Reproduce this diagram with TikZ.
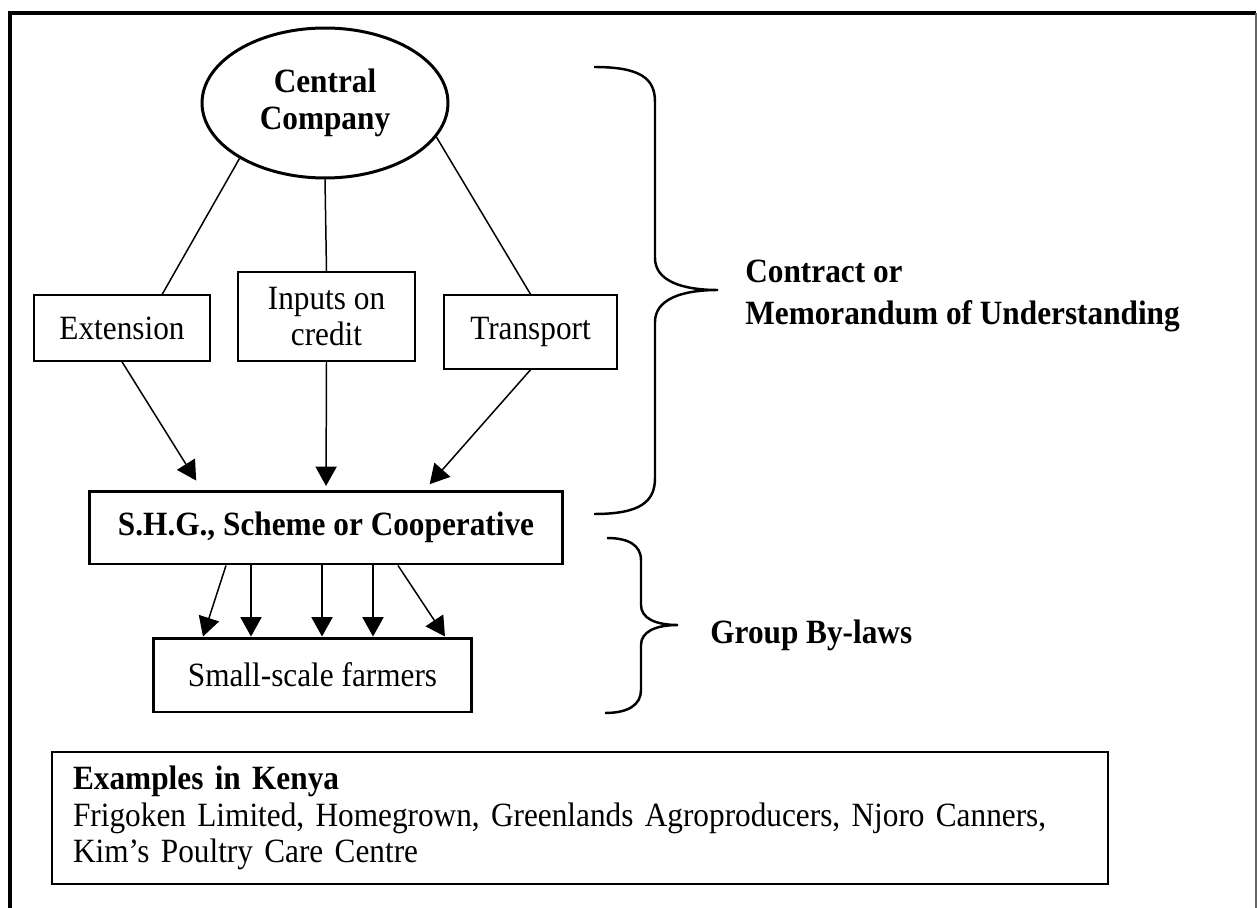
\documentclass[tikz,border=0pt]{standalone}
\usepackage{fontspec}
\setmainfont{Liberation Serif}[FakeStretch=0.92]
\usetikzlibrary{arrows.meta,shapes.geometric}

\begin{document}
\begin{tikzpicture}[x=0.02cm, y=-0.02cm,
  every node/.style={font=\fontsize{19.35}{20.8}\selectfont, inner sep=0pt, align=center},
  box/.style={draw, line width=0.9pt},
  thickbox/.style={draw, line width=1.7pt},
  link/.style={line width=0.85pt},
  arr/.style={line width=0.85pt, -{Triangle[length=11pt,width=12pt]}}]
\useasboundingbox (0,0) rectangle (1257,908);
% frame
\draw[line width=2pt] (10,908) -- (10,13) -- (1256,13);
\draw[line width=0.6pt, black!60] (1256,13) -- (1256,908);
% company and services
\node[ellipse, draw, line width=1.7pt, minimum width=4.92cm, minimum height=3cm, font=\fontsize{19.35}{21}\selectfont\bfseries] (cc) at (325,103) {Central\\Company};
\node[box, minimum width=3.52cm, minimum height=1.32cm] (ext) at (122,328) {Extension};
\node[box, minimum width=3.54cm, minimum height=1.78cm] (inp) at (326.5,316.5) {Inputs on\\credit};
\node[box, minimum width=3.46cm, minimum height=1.48cm] (tr) at (530.5,332) {Transport};
\node[thickbox, minimum width=9.48cm, minimum height=1.46cm, font=\fontsize{19.35}{20.8}\selectfont\bfseries] (shg) at (326,527.5) {S.H.G., Scheme or Cooperative};
\node[thickbox, minimum width=6.38cm, minimum height=1.48cm] (fm) at (312.5,675) {Small-scale farmers};
\draw[link] (cc.-147) -- (ext.40);
\draw[link] (cc.south) -- (inp.north);
\draw[link] (cc.-17) -- (tr.north);
\draw[arr, shorten >=6pt] (ext.south) -- (shg.163);
\draw[arr, shorten >=2pt] (inp.south) -- (shg.north);
\draw[arr, shorten >=4pt] (tr.south) -- (shg.21);
\foreach \a/\b in {226/203,251/251,322/322,373/373,398/445}
  \draw[arr] (shg.south -| \a,0) -- (fm.north -| \b,0);
% braces
\draw[line width=1.4pt] (594,67) .. controls (640,67) and (655,78) .. (655,102) -- (655,258)
  .. controls (655,280) and (680,290) .. (718,290)
  .. controls (680,290) and (655,300) .. (655,322) -- (655,478)
  .. controls (655,502) and (640,514) .. (594,514);
\draw[line width=1.4pt] (607,538) .. controls (628,538) and (641,545) .. (641,560) -- (641,605)
  .. controls (641,618) and (655,625) .. (678,625)
  .. controls (655,625) and (641,632) .. (641,645) -- (641,690)
  .. controls (641,705) and (628,713) .. (605,713);
\node[anchor=west, align=left, font=\fontsize{19.35}{24}\selectfont\bfseries] (moa) at (745,296) {Contract or\\Memorandum of Understanding};
\node[anchor=west, font=\fontsize{19.35}{20.8}\selectfont\bfseries] (gbl) at (710,635) {Group By-laws};
% examples
\node[draw, line width=1pt, minimum width=21.12cm, minimum height=2.64cm, align=left, text width=20.28cm] (ex) at (580,818) {\textbf{Examples in Kenya}\\Frigoken Limited, Homegrown, Greenlands Agroproducers, Njoro Canners,\\Kim’s Poultry Care Centre};
\end{tikzpicture}
\end{document}
